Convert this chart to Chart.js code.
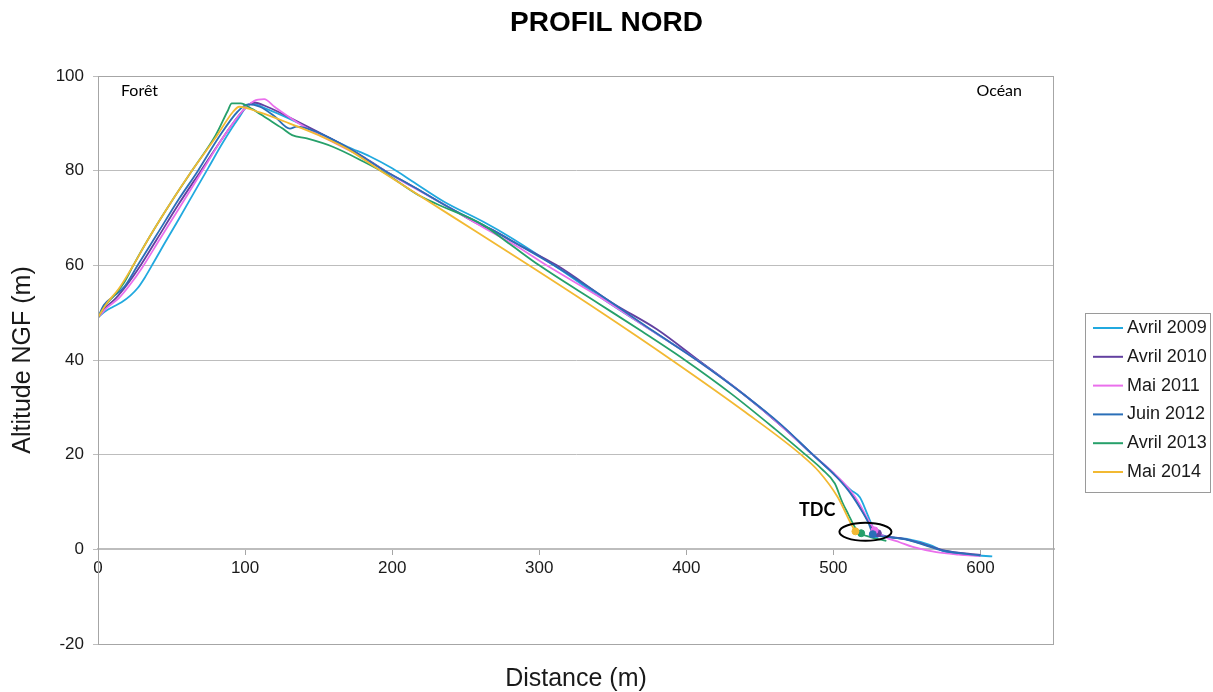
<!DOCTYPE html>
<html lang="fr">
<head>
<meta charset="utf-8">
<title>Profil Nord</title>
<script src="https://cdn.jsdelivr.net/npm/chart.js@4"></script>
<style>
  html, body { margin: 0; padding: 0; background: #fff; }
  canvas { display: block; }
</style>
</head>
<body>
<canvas id="profilChart" width="1213" height="692"></canvas>
<script>
// Profils [distance (m), altitude NGF (m)]
const seriesNames = ['Avril 2009', 'Avril 2010', 'Mai 2011', 'Juin 2012', 'Avril 2013', 'Mai 2014'];
const seriesColors = ['#21a9df', '#6340a0', '#ea6fec', '#2a6fb8', '#26a06a', '#f2b932'];

const avril2009 = [[0,49],[5,50.3],[10,51.2],[16,52.2],[22,53.6],[27,55.2],[32,57.5],[38,60.7],[45,64.5],[55,69.8],[65,75.2],[75,80.6],[85,86],[95,90.8],[104,94.2],[115,93],[130,91],[150,88],[170,85],[185,83],[200,80.5],[215,77.5],[235,73.5],[262,69.2],[280,66],[310,60],[350,51.5],[380,45.5],[410,39.5],[440,32.5],[465,26],[486,20],[500,16],[512,12.5],[518,11],[523,7.5],[528,4],[535,2.8],[550,2.2],[565,1],[577,-0.6],[595,-1.2],[608,-1.5]];
const avril2010 = [[0,49],[5,51],[12,53],[20,56],[29,60],[40,65.5],[55,73],[70,80],[85,87],[98,92.5],[106,94.4],[115,93.5],[135,90.5],[160,86.5],[180,83],[195,80],[215,76.5],[240,72],[262,68.2],[266,67.8],[285,64.5],[312,60],[350,52],[380,46.5],[408,40],[440,32.5],[465,26],[486,20],[500,16],[510,12.8],[518,9],[524,5.8],[528,3.6],[535,2.8],[548,2.2],[558,1.4],[575,-0.2],[600,-1.2]];
const mai2011 = [[0,49],[6,51],[14,53],[22,56],[30,59.5],[42,65.5],[56,72.5],[70,79.5],[85,87],[98,92.5],[106,94.7],[113,95.1],[120,93.5],[135,90.3],[160,86],[180,82.8],[200,79],[220,75.5],[240,72],[262,68],[285,64],[305,60],[340,53.5],[375,46.5],[407,40],[440,32.5],[465,26],[486,20],[500,16.2],[510,13],[518,9.5],[523,6.5],[528,4.3],[535,2.6],[545,1.5],[554,0.5],[570,-0.6],[585,-1.1],[600,-1.4]];
const juin2012 = [[0,49],[4,51.6],[10,53.3],[18,55.5],[27,60],[40,66.5],[55,74],[68,80],[82,87],[95,92.5],[102,94],[110,93.5],[120,91.5],[130.5,88.9],[135,89.3],[150,88],[170,84.8],[195,80],[215,76.5],[240,72],[262,68.5],[285,64.5],[310,60],[345,53],[378,46],[407,40],[440,32.5],[465,26.2],[486,20],[500,16],[510,12.5],[518,8.8],[524,5.5],[527,3.2],[535,2.7],[549,2.1],[558,1.3],[575,-0.3],[600,-1.3]];
const avril2013 = [[0,49],[5,51.5],[12,54],[18,56.5],[24,60],[35,66],[50,73.5],[65,80.5],[80,87.5],[88,92.5],[91,94.2],[97,94.2],[105,93],[115,91],[125,89],[132,87.5],[142,86.8],[160,85],[180,82],[195,79.5],[218,74.8],[230,73],[262,68.5],[280,64.5],[300,60],[340,52],[370,46],[399,40],[430,33],[460,25.5],[481,20],[492,17],[501,13.9],[506,10],[510,7.5],[515,4.5],[519,3.3],[525,2.6],[536,1.8]];
const mai2014 = [[0,49],[6,52],[14,55],[24,60],[35,66],[50,73.5],[65,80.5],[80,87],[92,92.5],[96,93.5],[110,92.3],[130,90],[150,87.5],[170,84.5],[192,80],[240,70.5],[293,60],[340,50.5],[390,40],[440,29],[478,20],[490,16.5],[503,11],[512,5.4],[515,3.8],[518,3.2]];

// Trait de côte (TDC) de chaque année
const tdcPoints = [[529,3.2],[530.2,3.4],[528,4.0],[526.8,3.2],[518.9,3.4],[515,3.8]];

const xTicks = [0, 100, 200, 300, 400, 500, 600];
const yTicks = [-20, 0, 20, 40, 60, 80, 100];

const profiles = [avril2009, avril2010, mai2011, juin2012, avril2013, mai2014];

Chart.defaults.font.family = "'Liberation Sans', Arial, sans-serif";
Chart.defaults.color = '#1a1a1a';

const datasets = profiles.map((pts, i) => ({
    label: seriesNames[i],
    data: pts.map(p => ({ x: p[0], y: p[1] })),
    borderColor: seriesColors[i],
    backgroundColor: seriesColors[i],
    borderWidth: 1.8,
    pointRadius: 0,
    cubicInterpolationMode: 'monotone',
    fill: false,
    order: profiles.length - i
}));

datasets.push({
    label: 'TDC',
    data: tdcPoints.map(p => ({ x: p[0], y: p[1] })),
    showLine: false,
    pointRadius: 3.5,
    pointBackgroundColor: seriesColors,
    pointBorderColor: seriesColors,
    order: 0
});

// titre, cadre, légende, textes et ellipse du TDC
const decorPlugin = {
    id: 'decor',
    afterDraw(chart) {
        const { ctx, chartArea: a, scales: { x, y } } = chart;
        ctx.save();

        ctx.fillStyle = '#000';
        ctx.font = "bold 28px 'Liberation Sans', Arial, sans-serif";
        ctx.textAlign = 'center';
        ctx.textBaseline = 'middle';
        ctx.fillText('PROFIL NORD', chart.width / 2, 23);

        ctx.strokeStyle = '#a6a6a6';
        ctx.lineWidth = 1;
        ctx.strokeRect(a.left + 0.5, a.top + 0.5, a.right - a.left - 1, a.bottom - a.top);

        // Forêt / Océan
        ctx.font = "16px Lato, 'Open Sans', sans-serif";
        ctx.textAlign = 'left';
        ctx.fillText('Forêt', a.left + 23, a.top + 15);
        ctx.textAlign = 'right';
        ctx.fillText('Océan', a.right - 32, a.top + 15);

        // TDC
        ctx.font = "bold 18px Lato, 'Open Sans', sans-serif";
        ctx.textAlign = 'center';
        ctx.fillText('TDC', x.getPixelForValue(489), y.getPixelForValue(8.3));

        const cx = x.getPixelForValue(521.8), cy = y.getPixelForValue(3.7);
        const rx = x.getPixelForValue(521.8 + 17.7) - cx;
        const ry = cy - y.getPixelForValue(3.7 + 1.9);
        ctx.beginPath();
        ctx.ellipse(cx, cy, rx, ry, 0, 0, Math.PI * 2);
        ctx.strokeStyle = '#000';
        ctx.lineWidth = 2;
        ctx.stroke();

        // légende
        const lx = a.right + 31, ly = 313, lw = 125, lh = 179;
        ctx.strokeStyle = '#9a9a9a';
        ctx.lineWidth = 1;
        ctx.strokeRect(lx + 0.5, ly + 0.5, lw, lh);
        ctx.font = "18px 'Liberation Sans', Arial, sans-serif";
        ctx.textAlign = 'left';
        seriesNames.forEach((name, i) => {
            const yy = ly + 15 + i * 28.8;
            ctx.strokeStyle = seriesColors[i];
            ctx.lineWidth = 2;
            ctx.beginPath();
            ctx.moveTo(lx + 8, yy);
            ctx.lineTo(lx + 38, yy);
            ctx.stroke();
            ctx.fillStyle = '#1a1a1a';
            ctx.fillText(name, lx + 42, yy);
        });

        ctx.restore();
    }
};

new Chart(document.getElementById('profilChart').getContext('2d'), {
    type: 'line',
    data: { datasets },
    options: {
        responsive: false,
        animation: false,
        layout: { padding: { left: 0, right: 159, top: 76, bottom: 0 } },
        scales: {
            x: {
                type: 'linear',
                position: { y: 0 },
                min: 0,
                max: 650,
                afterFit: s => { s.height = 0; },
                afterBuildTicks: s => { s.ticks = xTicks.map(v => ({ value: v })); },
                grid: { drawOnChartArea: false, tickLength: 5, color: '#a6a6a6' },
                border: { color: '#bdbdbd', width: 2 },
                ticks: { font: { size: 17 }, padding: 4, maxRotation: 0, autoSkip: false }
            },
            y: {
                min: -20,
                max: 100,
                afterFit: s => { s.width = 98; },
                afterBuildTicks: s => { s.ticks = yTicks.map(v => ({ value: v })); },
                grid: { color: '#bdbdbd', tickLength: 5 },
                border: { color: '#a6a6a6' },
                ticks: { font: { size: 17 }, padding: 9 },
                title: {
                    display: true,
                    text: 'Altitude NGF (m)',
                    font: { size: 25 },
                    padding: { top: 8, bottom: 0 }
                }
            }
        },
        plugins: {
            legend: { display: false },
            tooltip: { enabled: false },
            title: { display: false },
            subtitle: {
                display: true,
                position: 'bottom',
                fullSize: false,
                text: 'Distance (m)',
                color: '#1a1a1a',
                font: { size: 25, lineHeight: 1 },
                padding: { top: 23, bottom: 0 }
            }
        }
    },
    plugins: [decorPlugin]
});
</script>
</body>
</html>
